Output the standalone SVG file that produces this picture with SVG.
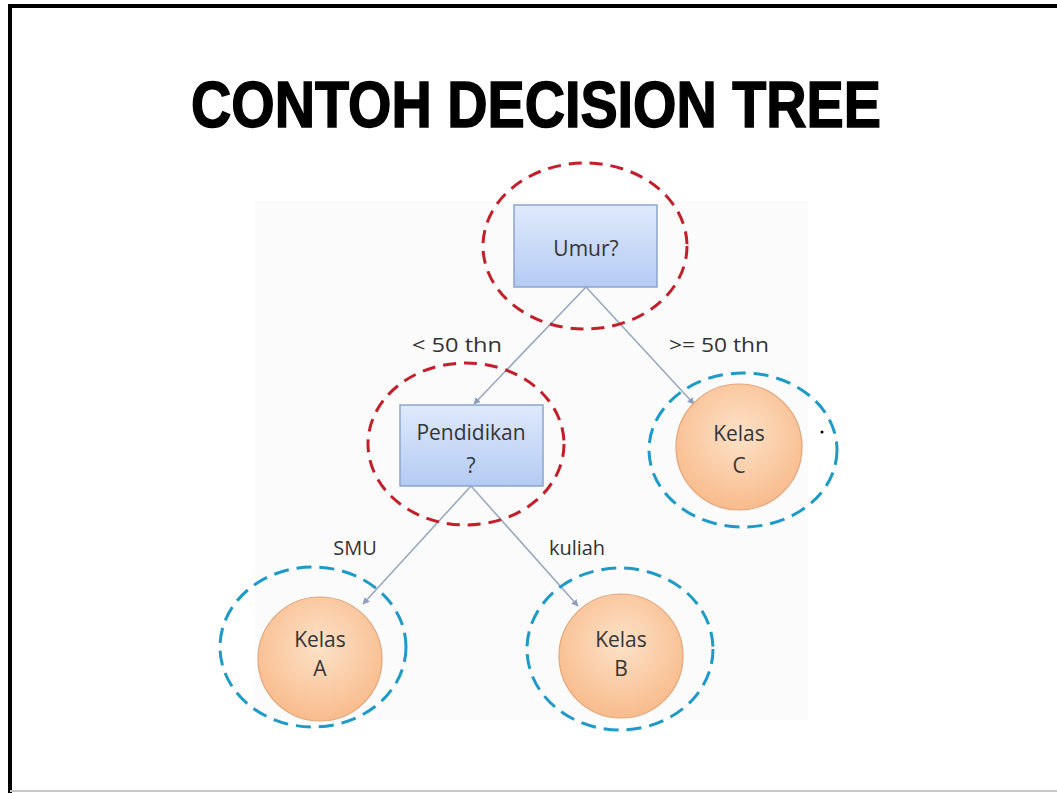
<svg xmlns="http://www.w3.org/2000/svg" width="1057" height="793" viewBox="0 0 1057 793">
<defs>
<linearGradient id="boxg" x1="0" y1="0" x2="0" y2="1">
<stop offset="0" stop-color="#dfe9fb"/>
<stop offset="1" stop-color="#b3cbf3"/>
</linearGradient>
<radialGradient id="circg" cx="0.5" cy="0.4" r="0.6">
<stop offset="0" stop-color="#fde2c8"/>
<stop offset="1" stop-color="#f8bb8c"/>
</radialGradient>
<marker id="arr" viewBox="0 0 10 10" refX="9" refY="5" markerWidth="7" markerHeight="7" orient="auto" markerUnits="userSpaceOnUse">
<path d="M0,0 L10,5 L0,10 z" fill="#8c9fc0"/>
</marker>
<style>
.box{fill:url(#boxg);stroke:#8da5cc;stroke-width:1.5}
.circ{fill:url(#circg);stroke:#e2a77c;stroke-width:1.2}
.red{fill:none;stroke:#c21f2b;stroke-width:3;stroke-dasharray:13 8}
.blue{fill:none;stroke:#1d9ac8;stroke-width:3;stroke-dasharray:15 8}
.t{font-family:"Open Sans","Liberation Sans",sans-serif;font-size:21px;fill:#353535;text-anchor:middle}
.lab{font-family:"Open Sans","Liberation Sans",sans-serif;font-size:20px;fill:#333;text-anchor:middle}
.conn{stroke:#9aa9c2;stroke-width:1.6;fill:none;marker-end:url(#arr)}
</style>
</defs>
<rect x="0" y="0" width="1057" height="793" fill="#ffffff"/>
<rect x="255" y="201" width="553" height="519" fill="#fbfbfb"/>
<path d="M10,793 L10,6 L1057,6" fill="none" stroke="#000" stroke-width="4"/>
<line x1="10" y1="791" x2="1057" y2="791" stroke="#c8c8c8" stroke-width="2"/>
<text x="536" y="127" font-family="Liberation Sans,Arial,sans-serif" font-weight="bold" font-size="65" fill="#000" stroke="#000" stroke-width="1.5" text-anchor="middle" textLength="690" lengthAdjust="spacingAndGlyphs">CONTOH DECISION TREE</text>
<g id="connectors">
<line class="conn" x1="586" y1="287" x2="474" y2="404"/>
<line class="conn" x1="586" y1="287" x2="694" y2="404"/>
<line class="conn" x1="471" y1="486" x2="363" y2="604"/>
<line class="conn" x1="471" y1="486" x2="578" y2="606"/>
<text class="lab" x="457" y="352" textLength="90" lengthAdjust="spacingAndGlyphs">&lt; 50 thn</text>
<text class="lab" x="719" y="352" textLength="100" lengthAdjust="spacingAndGlyphs">&gt;= 50 thn</text>
<text class="lab" x="355" y="555">SMU</text>
<text class="lab" x="577" y="555">kuliah</text>
</g>
<g id="umur">
<rect class="box" x="514" y="205" width="143" height="82"/>
<text class="t" x="586" y="256" font-size="24">Umur?</text>
<ellipse class="red" cx="585" cy="246" rx="102" ry="83"/>
</g>
<g id="pendidikan">
<rect class="box" x="400" y="405" width="143" height="81"/>
<text class="t" x="471" y="440">Pendidikan</text>
<text class="t" x="471" y="473">?</text>
<ellipse class="red" cx="466" cy="444" rx="98" ry="81"/>
</g>
<g id="kelasC">
<circle class="circ" cx="739" cy="447" r="63"/>
<text class="t" x="739" y="441">Kelas</text>
<text class="t" x="739" y="473">C</text>
<ellipse class="blue" cx="743" cy="450" rx="94" ry="77"/>
<circle cx="822" cy="432" r="1.5" fill="#000"/>
</g>
<g id="kelasA">
<circle class="circ" cx="320" cy="659" r="62"/>
<text class="t" x="320" y="647">Kelas</text>
<text class="t" x="320" y="676">A</text>
<ellipse class="blue" cx="313" cy="647" rx="93" ry="80"/>
</g>
<g id="kelasB">
<circle class="circ" cx="621" cy="656" r="62"/>
<text class="t" x="621" y="647">Kelas</text>
<text class="t" x="621" y="676">B</text>
<ellipse class="blue" cx="620" cy="649" rx="93" ry="81"/>
</g>
</svg>
